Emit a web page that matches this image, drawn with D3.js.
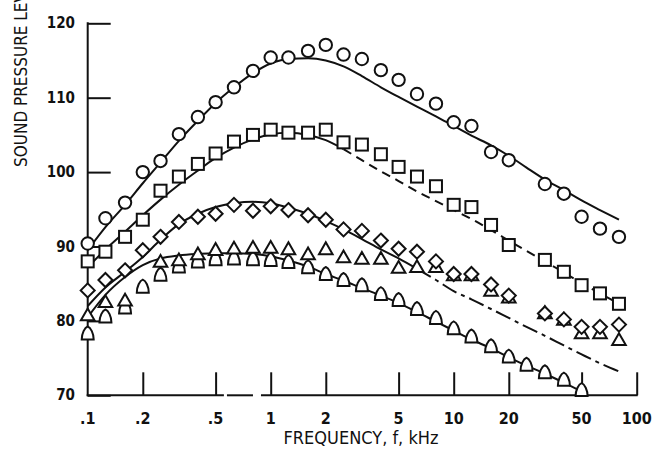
<!DOCTYPE html>
<html>
<head>
<meta charset="utf-8">
<script src="https://cdn.jsdelivr.net/npm/d3@7"></script>
<style>
  html, body { margin: 0; padding: 0; background: #fff; }
  svg { display: block; }
  .tick-label { font-family: "Liberation Sans Narrow", "DejaVu Sans Condensed", "Liberation Sans", sans-serif; font-weight: bold; fill: #111; }
  .axis-title { font-family: "Liberation Sans Narrow", "DejaVu Sans Condensed", "Liberation Sans", sans-serif; fill: #111; }
</style>
</head>
<body>
<svg id="chart" width="652" height="453"></svg>
<script>
// One-third-octave band centre frequencies, kHz
const bands = [0.1, 0.125, 0.16, 0.2, 0.25, 0.315, 0.4, 0.5, 0.63, 0.8, 1, 1.25, 1.6, 2, 2.5, 3.15,
               4, 5, 6.3, 8, 10, 12.5, 16, 20, 25, 31.5, 40, 50, 63, 80];

// Measured band levels, dB (null = no point plotted)
const circleLevels  = [90.4, 93.8, 95.9, 100.0, 101.5, 105.1, 107.4, 109.4, 111.4, 113.6, 115.4, 115.4, 116.3, 117.1, 115.8, 115.2,
                       113.7, 112.4, 110.5, 109.2, 106.7, 106.2, 102.7, 101.6, null, 98.4, 97.1, 94.0, 92.4, 91.3];
const squareLevels  = [88.0, 89.3, 91.3, 93.6, 97.5, 99.4, 101.1, 102.5, 104.1, 105.0, 105.7, 105.3, 105.3, 105.7, 104.0, 103.7,
                       102.4, 100.7, 99.4, 98.1, 95.6, 95.3, 92.9, 90.2, null, 88.2, 86.6, 84.8, 83.7, 82.3];
const diamondLevels = [84.1, 85.5, 86.8, 89.5, 91.3, 93.3, 94.0, 94.4, 95.6, 94.8, 95.4, 94.9, 94.2, 93.6, 92.3, 92.1,
                       90.8, 89.7, 89.3, 88.0, 86.3, 86.3, 84.9, 83.4, null, 81.0, 80.2, 79.2, 79.2, 79.5];
const triangleLevels = [80.6, 82.4, 82.6, null, 87.8, 88.0, 88.8, 89.4, 89.6, 89.7, 89.7, 89.5, 88.8, 89.5, 88.4, 88.2,
                        88.2, 87.0, 87.1, 87.1, 86.0, 86.0, 83.9, 83.0, null, 80.9, 80.0, 78.2, 78.2, 77.3];
const bellLevels    = [78.3, 80.6, 81.8, 84.6, 86.2, 87.3, 88.0, 88.3, 88.4, 88.3, 88.2, 87.9, 87.2, 86.3, 85.5, 84.8,
                       83.6, 82.8, 81.6, 80.4, 79.0, 77.9, 76.6, 75.2, 74.1, 73.1, 72.1, 70.7, null, null];

// Predicted spectra, dB per band
const circleCurve  = [89.5, 92.6, 95.6, 98.5, 101.3, 104.2, 106.9, 109.3, 111.4, 113.3, 114.6, 115.2, 115.3, 115.0, 114.2, 112.9,
                      111.4, 110.1, 108.8, 107.5, 106.2, 104.9, 103.6, 102.2, 100.6, 99.0, 97.6, 96.2, 94.9, 93.6];
const squareCurve  = [87.2, 89.6, 92.0, 94.2, 96.3, 98.3, 100.2, 101.9, 103.3, 104.4, 105.1, 105.3, 105.0, 104.3, 103.1, 101.6,
                      100.1, 98.8, 97.4, 96.1, 94.9, 93.7, 92.2, 90.8, 89.4, 88.0, 86.5, 85.1, 83.7, 82.3];
const diamondCurve = [82.0, 84.5, 86.6, 88.6, 90.9, 93.0, 94.4, 95.3, 95.8, 96.0, 95.8, 95.2, 94.4, 93.4, 92.3, 91.0,
                      89.6, 88.4, 87.0, 85.5, 84.0, 82.9, 81.6, 80.4, 79.2, 78.0, 76.7, 75.5, 74.3, 73.2];
const lowerCurve   = [80.5, 83.5, 85.9, 87.5, 88.4, 88.8, 89.0, 89.1, 89.1, 89.0, 88.7, 88.1, 87.3, 86.3, 85.4, 84.4,
                      83.4, 82.4, 81.2, 79.9, 78.7, 77.5, 76.3, 75.1, 74.0, 72.9, 71.7, 70.5, null, null];

// Axis ticks
const xTicks = [0.1, 0.2, 0.5, 1, 2, 5, 10, 20, 50, 100];
const xTickLabels = [".1", ".2", ".5", "1", "2", "5", "10", "20", "50", "100"];
const yTicks = [70, 80, 90, 100, 110, 120];

const svg = d3.select("#chart");
const x = d3.scaleLog().domain([0.1, 100]).range([87.7, 636.7]);
const y = d3.scaleLinear().domain([70, 120]).range([395.3, 23.3]);
const ink = "#111";

// ---- axes ----
const yAxis = d3.axisRight(y).tickValues(yTicks).tickSize(23).tickFormat("");
const gy = svg.append("g").attr("transform", `translate(${x(0.1)},0)`).call(yAxis);
gy.select(".domain").remove();
gy.selectAll(".tick line").attr("stroke", ink).attr("stroke-width", 2);
svg.append("line").attr("x1", x(0.1)).attr("x2", x(0.1)).attr("y1", y(120) - 1).attr("y2", y(70) + 1)
  .attr("stroke", ink).attr("stroke-width", 2);

const xAxis = d3.axisTop(x).tickValues(xTicks).tickSize(23).tickFormat("");
const gx = svg.append("g").attr("transform", `translate(0,${y(70)})`).call(xAxis);
gx.select(".domain").remove();
gx.selectAll(".tick line").attr("stroke", ink).attr("stroke-width", 2);
gx.selectAll(".tick").filter(d => d === 0.1).remove();
// bottom rule, printed in broken pieces
const ruleSegments = [[0.1, 0.548], [0.584, 0.79], [0.896, 100]];
svg.selectAll("line.rule").data(ruleSegments).enter().append("line")
  .attr("class", "rule")
  .attr("x1", d => x(d[0]) - 1).attr("x2", d => x(d[1]) + 1)
  .attr("y1", y(70)).attr("y2", y(70))
  .attr("stroke", ink).attr("stroke-width", 2);

svg.selectAll("text.ylab").data(yTicks).enter().append("text")
  .attr("class", "tick-label ylab")
  .attr("x", 75).attr("y", d => y(d) + 5)
  .attr("text-anchor", "end").attr("font-size", 15)
  .text(d => d);

svg.selectAll("text.xlab").data(xTicks).enter().append("text")
  .attr("class", "tick-label xlab")
  .attr("x", d => x(d)).attr("y", 424)
  .attr("text-anchor", "middle").attr("font-size", 16)
  .text((d, i) => xTickLabels[i]);

svg.append("text").attr("class", "axis-title")
  .attr("x", 361).attr("y", 444).attr("text-anchor", "middle").attr("font-size", 18)
  .text("FREQUENCY, f, kHz");

svg.append("text").attr("class", "axis-title")
  .attr("transform", "translate(27,167) rotate(-90)")
  .attr("text-anchor", "start").attr("font-size", 17)
  .text("SOUND PRESSURE LEVEL, dB");

// ---- predicted curves ----
const line = d3.line()
  .defined(d => d.v !== null)
  .x(d => x(d.f)).y(d => y(d.v))
  .curve(d3.curveMonotoneX);

function drawCurve(values, splitF, dash) {
  const pts = bands.map((f, i) => ({ f, v: values[i] })).filter(d => d.v !== null);
  const solid = pts.filter(d => splitF === null || d.f <= splitF);
  const rest = splitF === null ? [] : pts.filter(d => d.f >= splitF);
  svg.append("path").attr("d", line(solid)).attr("fill", "none")
    .attr("stroke", ink).attr("stroke-width", 2);
  if (rest.length) {
    svg.append("path").attr("d", line(rest)).attr("fill", "none")
      .attr("stroke", ink).attr("stroke-width", 2).attr("stroke-dasharray", dash);
  }
}
drawCurve(circleCurve, null, null);
drawCurve(squareCurve, 2.5, "9,6");
drawCurve(diamondCurve, 6.3, "16,5,4,5");
drawCurve(lowerCurve, null, null);

// ---- measured points ----
function points(values) {
  return bands.map((f, i) => ({ f, v: values[i] })).filter(d => d.v !== null);
}
const markerStyle = sel => sel.attr("fill", "#fff").attr("stroke", ink).attr("stroke-width", 2);

const bellPath = "M-6,6 L6,6 C6,0 3,-6 0,-7 C-3,-6 -6,0 -6,6 Z";
svg.append("g").selectAll("path").data(points(bellLevels)).enter().append("path")
  .attr("d", bellPath)
  .attr("transform", d => `translate(${x(d.f)},${y(d.v)})`)
  .call(markerStyle);

const tri = d3.symbol().type(d3.symbolTriangle).size(80);
svg.append("g").selectAll("path").data(points(triangleLevels)).enter().append("path")
  .attr("d", tri)
  .attr("transform", d => `translate(${x(d.f)},${y(d.v)})`)
  .call(markerStyle);

svg.append("g").selectAll("path").data(points(diamondLevels)).enter().append("path")
  .attr("d", "M0,-7 L7,0 L0,7 L-7,0 Z")
  .attr("transform", d => `translate(${x(d.f)},${y(d.v)})`)
  .call(markerStyle);

svg.append("g").selectAll("rect").data(points(squareLevels)).enter().append("rect")
  .attr("x", d => x(d.f) - 6).attr("y", d => y(d.v) - 6)
  .attr("width", 12).attr("height", 12)
  .call(markerStyle);

svg.append("g").selectAll("circle").data(points(circleLevels)).enter().append("circle")
  .attr("cx", d => x(d.f)).attr("cy", d => y(d.v)).attr("r", 6.2)
  .call(markerStyle);
</script>
</body>
</html>
